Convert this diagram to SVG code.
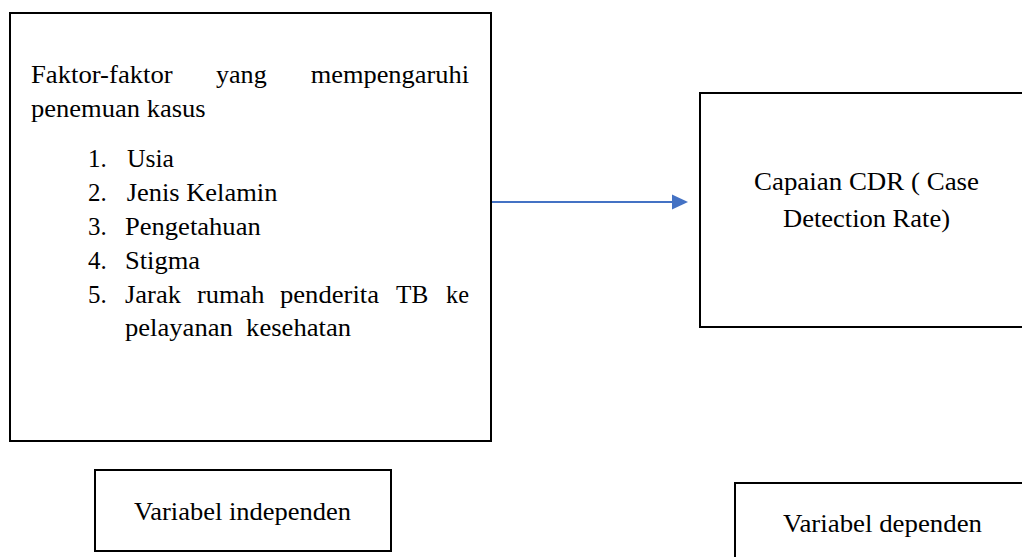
<svg xmlns="http://www.w3.org/2000/svg" width="1022" height="557" viewBox="0 0 1022 557">
<style>
.box{fill:#fff;stroke:#000;stroke-width:2}
.t{font-family:'Liberation Serif','DejaVu Serif','Noto Serif',serif;font-size:26px;fill:#000}
.c{text-anchor:middle}
.e{text-anchor:end}
</style>
<rect width="1022" height="557" fill="#fff"/>
<g id="connectors">
<line x1="492" y1="202" x2="673" y2="202" stroke="#4472C4" stroke-width="2"/>
<path d="M672,194.5 L688,202 L672,209.5 Z" fill="#4472C4"/>
</g>
<g id="factors">
<rect class="box" x="10" y="13" width="481" height="428"/>
<text class="t" x="31" y="83" textLength="141.7" lengthAdjust="spacingAndGlyphs">Faktor-faktor</text>
<text class="t" x="216" y="83" textLength="50.7" lengthAdjust="spacingAndGlyphs">yang</text>
<text class="t" x="310.7" y="83" textLength="158.3" lengthAdjust="spacingAndGlyphs">mempengaruhi</text>
<text class="t" x="31" y="117" textLength="174.7" lengthAdjust="spacingAndGlyphs">penemuan kasus</text>
<text class="t" x="88" y="167" textLength="18.7" lengthAdjust="spacingAndGlyphs">1.</text><text class="t" x="127" y="167" textLength="47" lengthAdjust="spacingAndGlyphs">Usia</text>
<text class="t" x="88" y="201" textLength="18.7" lengthAdjust="spacingAndGlyphs">2.</text><text class="t" x="126.7" y="201" textLength="150.7" lengthAdjust="spacingAndGlyphs">Jenis Kelamin</text>
<text class="t" x="88" y="235" textLength="18.7" lengthAdjust="spacingAndGlyphs">3.</text><text class="t" x="125" y="235" textLength="135.7" lengthAdjust="spacingAndGlyphs">Pengetahuan</text>
<text class="t" x="88" y="269" textLength="18.7" lengthAdjust="spacingAndGlyphs">4.</text><text class="t" x="125" y="269" textLength="75" lengthAdjust="spacingAndGlyphs">Stigma</text>
<text class="t" x="88" y="303" textLength="18.7" lengthAdjust="spacingAndGlyphs">5.</text><text class="t" x="125" y="303" textLength="56" lengthAdjust="spacingAndGlyphs">Jarak</text>
<text class="t" x="197" y="303" textLength="67.3" lengthAdjust="spacingAndGlyphs">rumah</text>
<text class="t" x="280" y="303" textLength="99" lengthAdjust="spacingAndGlyphs">penderita</text>
<text class="t" x="396" y="303" textLength="32.3" lengthAdjust="spacingAndGlyphs">TB</text>
<text class="t" x="446" y="303" textLength="23" lengthAdjust="spacingAndGlyphs">ke</text>
<text class="t" x="125" y="336" textLength="226" lengthAdjust="spacingAndGlyphs" xml:space="preserve">pelayanan  kesehatan</text>
</g>
<g id="cdr">
<rect class="box" x="700" y="93" width="330" height="234"/>
<text class="t" x="754" y="190" textLength="225" lengthAdjust="spacingAndGlyphs">Capaian CDR ( Case</text>
<text class="t" x="783" y="227" textLength="167" lengthAdjust="spacingAndGlyphs">Detection Rate)</text>
</g>
<g id="independen">
<rect class="box" x="95" y="470" width="296" height="81"/>
<text class="t" x="134" y="520" textLength="217" lengthAdjust="spacingAndGlyphs">Variabel independen</text>
</g>
<g id="dependen">
<rect class="box" x="735" y="483" width="300" height="90"/>
<text class="t" x="783" y="532" textLength="199" lengthAdjust="spacingAndGlyphs">Variabel dependen</text>
</g>
</svg>
